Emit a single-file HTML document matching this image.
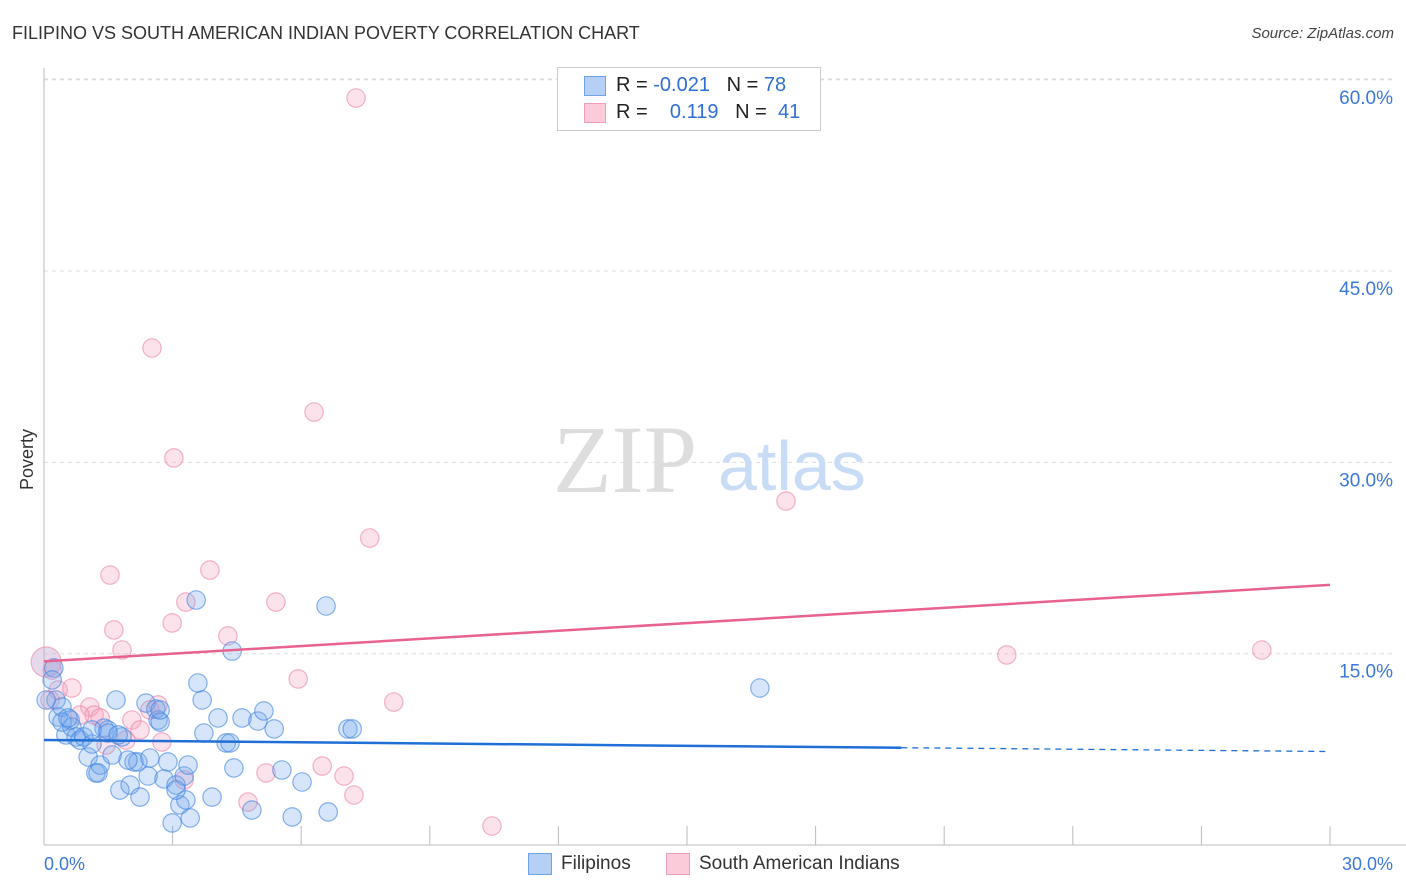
<!DOCTYPE html>
<html><head><meta charset="utf-8">
<style>
body{margin:0;background:#fff;font-family:"Liberation Sans",sans-serif;}
#wrap{position:relative;width:1406px;height:892px;overflow:hidden;}
.t{position:absolute;white-space:nowrap;}
</style></head>
<body>
<div id="wrap">
<div class="t" style="left:12px;top:23px;font-size:18px;color:#333;">FILIPINO VS SOUTH AMERICAN INDIAN POVERTY CORRELATION CHART</div>
<div class="t" style="right:12px;top:25px;font-size:15px;color:#444;font-style:italic;">Source: ZipAtlas.com</div>
<div class="t" style="left:17px;font-size:18px;color:#333;transform:rotate(-90deg);transform-origin:left top;top:490px;">Poverty</div>
<svg id="svg" width="1406" height="892" style="position:absolute;left:0;top:0"></svg>
</div>
<script>
const xTicks=[0,3,6,9,12,15,18,21,24,27,30];
const yTicks=[15,30,45,60];
const blueX=[0.23,0.28,0.33,0.42,0.51,0.61,0.65,0.75,0.84,0.93,1.03,1.12,1.21,1.31,1.40,1.49,1.59,1.68,1.77,1.82,2.01,2.10,2.19,2.24,2.38,2.43,2.47,2.61,2.66,2.71,2.80,2.89,2.99,3.08,3.17,3.27,3.31,3.36,3.41,3.55,3.59,3.69,3.73,3.92,4.06,4.25,4.39,4.43,4.62,4.85,4.99,5.13,5.37,5.55,5.79,6.02,6.58,6.63,7.09,16.70,0.42,2.71,3.08,1.49,1.73,0.56,1.12,1.96,0.19,1.26,7.19,0.05,4.34];
const blueY=[13.88,11.37,10.04,10.82,8.63,9.80,9.25,8.47,8.23,8.47,6.90,7.92,5.65,6.27,9.17,9.02,7.06,11.37,4.31,8.47,4.70,6.51,6.51,3.76,11.13,5.41,6.82,10.66,9.80,9.64,5.18,6.51,1.73,4.70,3.14,5.41,3.53,6.27,2.12,19.21,12.70,11.37,8.78,3.76,9.96,8.00,15.21,6.04,9.96,2.74,9.72,10.51,9.10,5.88,2.20,4.94,18.74,2.59,9.10,12.31,9.64,10.59,4.31,8.78,8.63,9.96,9.02,6.66,12.94,5.65,9.10,11.37,8.00];
const pinkX=[0.19,0.14,0.33,0.65,1.07,1.17,1.31,1.45,1.54,1.63,1.82,1.91,2.05,2.24,2.47,2.52,2.66,2.75,2.99,3.03,3.27,3.31,3.87,4.29,4.76,5.18,5.41,5.93,6.30,6.49,7.00,7.23,7.28,7.60,8.16,10.45,17.31,22.46,28.41,0.84];
const pinkY=[13.72,11.37,12.15,12.31,10.82,10.19,9.96,7.84,21.17,16.86,15.29,8.23,9.80,9.02,10.59,38.97,10.98,8.08,17.41,30.35,5.10,19.05,21.56,16.39,3.37,5.65,19.05,13.02,33.95,6.19,5.41,3.92,58.57,24.07,11.21,1.49,26.97,14.90,15.29,10.19];
const bigPink=[0.05,14.35];
const blueTrend=[8.23,7.33];
const pinkTrend=[14.4,20.4];
const blueSolidEnd=20;

const X0=44,X1=1330,Y0=845,YPX=191.3/15;
const sx=v=>X0+(X1-X0)*v/30;
const sy=v=>Y0-v*YPX;
const svg=document.getElementById('svg');
const NS='http://www.w3.org/2000/svg';
function mk(tag,at){const e=document.createElementNS(NS,tag);for(const k in at)e.setAttribute(k,at[k]);svg.appendChild(e);return e;}

yTicks.forEach(v=>{
  const g=mk('line',{x1:X0,x2:1395,y1:sy(v),y2:sy(v),stroke:'#ddd','stroke-dasharray':'4,4'});
  
  
  const t=mk('text',{x:1393,y:sy(v)+24,'text-anchor':'end','font-size':19,fill:'#3b78d8','font-family':'Liberation Sans, sans-serif'});
  t.textContent=v.toFixed(1)+'%';
  
  
});
const topGrid=mk('line',{x1:X0,x2:1395,y1:79,y2:79,stroke:'#ddd','stroke-dasharray':'4,4'});


const ya=mk('line',{x1:X0,x2:X0,y1:68,y2:Y0,stroke:'#bbb'});


const xa=mk('line',{x1:X0,x2:1406,y1:Y0,y2:Y0,stroke:'#bbb'});


xTicks.forEach(v=>{
  if(v===0)return;
  const l=mk('line',{x1:sx(v),x2:sx(v),y1:826,y2:Y0,stroke:'#bbb'});
  
  
});
[[0,'start',44],[30,'end',1393]].forEach(([v,a,x])=>{
  const t=mk('text',{x:x,y:870,'text-anchor':a,'font-size':18,fill:'#3b78d8','font-family':'Liberation Sans, sans-serif'});
  t.textContent=v.toFixed(1)+'%';
  
  
});
const w1=mk('text',{x:553,y:492,'font-size':96,fill:'#ddd','font-family':'Liberation Serif, serif'});
w1.textContent='ZIP';


const w2=mk('text',{x:718,y:490,'font-size':70,fill:'#c9dcf5','font-family':'Liberation Sans, sans-serif'});
w2.textContent='atlas';


pinkX.forEach((x,i)=>{
  const c=mk('circle',{cx:sx(x),cy:sy(pinkY[i]),r:9.2,fill:'rgba(244,160,188,0.3)',stroke:'rgba(236,130,165,0.6)','stroke-width':1.2});
  
  
});
const bp=mk('circle',{cx:sx(bigPink[0]),cy:sy(bigPink[1]),r:15,fill:'rgba(200,170,210,0.45)',stroke:'rgba(236,130,165,0.6)','stroke-width':1.2});


blueX.forEach((x,i)=>{
  const c=mk('circle',{cx:sx(x),cy:sy(blueY[i]),r:9.2,fill:'rgba(120,170,235,0.3)',stroke:'rgba(60,130,225,0.6)','stroke-width':1.2});
  
  
});
const by=x=>blueTrend[0]+(blueTrend[1]-blueTrend[0])*x/30;
const t1=mk('line',{x1:sx(0),y1:sy(by(0)),x2:sx(blueSolidEnd),y2:sy(by(blueSolidEnd)),stroke:'#1f6fd6','stroke-width':2.5});


const t2=mk('line',{x1:sx(blueSolidEnd),y1:sy(by(blueSolidEnd)),x2:sx(30),y2:sy(by(30)),stroke:'#1f6fd6','stroke-width':1.3,'stroke-dasharray':'6,5'});


const t3=mk('line',{x1:sx(0),y1:sy(pinkTrend[0]),x2:sx(30),y2:sy(pinkTrend[1]),stroke:'#e8628f','stroke-width':2.5});


</script>
<div class="t" style="left:557px;top:67px;width:262px;height:62px;border:1px solid #ccc;background:#fff;">
  <div style="position:absolute;left:26px;top:8px;width:20px;height:18px;background:#b5d0f4;border:1px solid #6fa3e6;"></div>
  <div style="position:absolute;left:26px;top:35px;width:20px;height:18px;background:#fbcbd9;border:1px solid #ef9fb9;"></div>
  <div class="t" style="left:58px;top:6px;font-size:20px;color:#222;">R = <span style="color:#2f6fd3">-0.021</span>&nbsp;&nbsp;&nbsp;N = <span style="color:#2f6fd3">78</span></div>
  <div class="t" style="left:58px;top:33px;font-size:20px;color:#222;">R = &nbsp;&nbsp;&nbsp;<span style="color:#2f6fd3">0.119</span>&nbsp;&nbsp;&nbsp;N = &nbsp;<span style="color:#2f6fd3">41</span></div>
</div>
<div class="t" style="left:528px;top:853px;width:22px;height:20px;background:#b5d0f4;border:1px solid #6fa3e6;"></div>
<div class="t" style="left:561px;top:853px;font-size:19px;color:#333;">Filipinos</div>
<div class="t" style="left:666px;top:853px;width:22px;height:20px;background:#fbcbd9;border:1px solid #ef9fb9;"></div>
<div class="t" style="left:699px;top:853px;font-size:19px;color:#333;">South American Indians</div>
</body></html>
